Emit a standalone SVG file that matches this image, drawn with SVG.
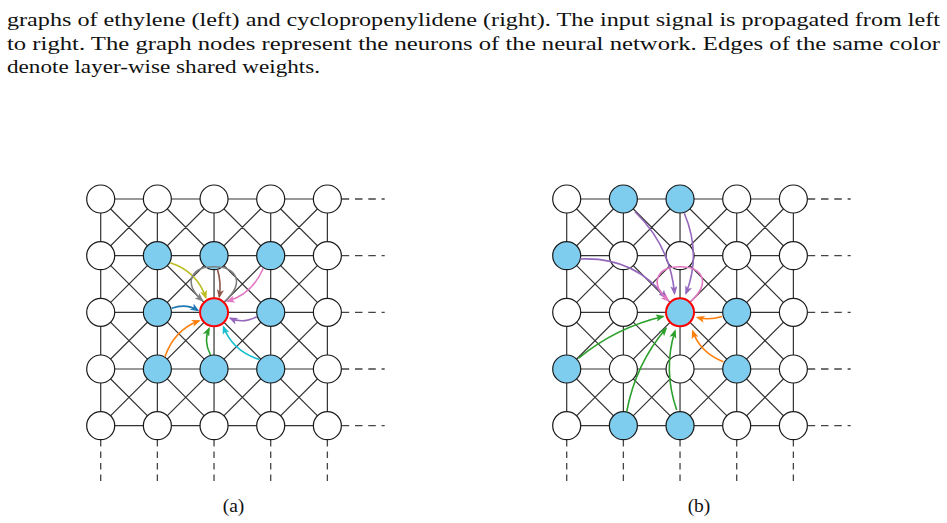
<svg xmlns="http://www.w3.org/2000/svg" width="947" height="523" viewBox="0 0 947 523">
  <style>
    .cap { font-family: "Liberation Serif", "DejaVu Serif", serif; font-size: 19.5px; fill: #111; }
    .grid { fill: none; stroke: #333; stroke-width: 1.2; }
    .dash-h { fill: none; stroke: #444; stroke-width: 1.3; stroke-dasharray: 7.5 5.8; }
    .dash-v { fill: none; stroke: #444; stroke-width: 1.3; stroke-dasharray: 6.5 5; }
    .n { stroke: #1a1a1a; stroke-width: 1.2; fill: #fff; }
    .on { fill: #7fcdee; }
    .focus { fill: #7fcdee; stroke: #ff0000; stroke-width: 2; }
    .arr { fill: none; stroke-width: 1.6; }
  </style>
  <defs>
    <marker id="h-olive" viewBox="0 0 10 8" refX="8" refY="4" markerWidth="9" markerHeight="7.2" markerUnits="userSpaceOnUse" orient="auto"><path d="M0,0 L10,4 L0,8 L2.5,4 z" fill="#bcbd22"/></marker>
    <marker id="h-grey" viewBox="0 0 10 8" refX="8" refY="4" markerWidth="9" markerHeight="7.2" markerUnits="userSpaceOnUse" orient="auto"><path d="M0,0 L10,4 L0,8 L2.5,4 z" fill="#7f7f7f"/></marker>
    <marker id="h-brown" viewBox="0 0 10 8" refX="8" refY="4" markerWidth="9" markerHeight="7.2" markerUnits="userSpaceOnUse" orient="auto"><path d="M0,0 L10,4 L0,8 L2.5,4 z" fill="#8c564b"/></marker>
    <marker id="h-pink" viewBox="0 0 10 8" refX="8" refY="4" markerWidth="9" markerHeight="7.2" markerUnits="userSpaceOnUse" orient="auto"><path d="M0,0 L10,4 L0,8 L2.5,4 z" fill="#e377c2"/></marker>
    <marker id="h-blue" viewBox="0 0 10 8" refX="8" refY="4" markerWidth="9" markerHeight="7.2" markerUnits="userSpaceOnUse" orient="auto"><path d="M0,0 L10,4 L0,8 L2.5,4 z" fill="#1f77b4"/></marker>
    <marker id="h-purple" viewBox="0 0 10 8" refX="8" refY="4" markerWidth="9" markerHeight="7.2" markerUnits="userSpaceOnUse" orient="auto"><path d="M0,0 L10,4 L0,8 L2.5,4 z" fill="#9467bd"/></marker>
    <marker id="h-orange" viewBox="0 0 10 8" refX="8" refY="4" markerWidth="9" markerHeight="7.2" markerUnits="userSpaceOnUse" orient="auto"><path d="M0,0 L10,4 L0,8 L2.5,4 z" fill="#ff7f0e"/></marker>
    <marker id="h-green" viewBox="0 0 10 8" refX="8" refY="4" markerWidth="9" markerHeight="7.2" markerUnits="userSpaceOnUse" orient="auto"><path d="M0,0 L10,4 L0,8 L2.5,4 z" fill="#2ca02c"/></marker>
    <marker id="h-cyan" viewBox="0 0 10 8" refX="8" refY="4" markerWidth="9" markerHeight="7.2" markerUnits="userSpaceOnUse" orient="auto"><path d="M0,0 L10,4 L0,8 L2.5,4 z" fill="#17becf"/></marker>

    <!-- 5x5 king-graph lattice: rows, columns and both diagonals of every cell -->
    <path id="lattice" class="grid" d="M0,0 H226.67 M0,56.67 H226.67 M0,113.33 H226.67 M0,170 H226.67 M0,226.67 H226.67
      M0,0 V226.67 M56.67,0 V226.67 M113.33,0 V226.67 M170,0 V226.67 M226.67,0 V226.67
      M0,0 L226.67,226.67 M56.67,0 L226.67,170 M113.33,0 L226.67,113.33 M170,0 L226.67,56.67
      M0,56.67 L170,226.67 M0,113.33 L113.33,226.67 M0,170 L56.67,226.67
      M56.67,0 L0,56.67 M113.33,0 L0,113.33 M170,0 L0,170 M226.67,0 L0,226.67
      M226.67,56.67 L56.67,226.67 M226.67,113.33 L113.33,226.67 M226.67,170 L170,226.67"/>
    <!-- continuation stubs to the right and below -->
    <g id="stubs">
      <path class="dash-h" d="M241,0 H284 M241,56.67 H284 M241,113.33 H284 M241,170 H284 M241,226.67 H284"/>
      <path class="dash-v" d="M0,241 V283 M56.67,241 V283 M113.33,241 V283 M170,241 V283 M226.67,241 V283"/>
    </g>
  </defs>

  <!-- caption -->
  <g id="caption">
    <text class="cap" x="7" y="26" textLength="933" lengthAdjust="spacingAndGlyphs">graphs of ethylene (left) and cyclopropenylidene (right). The input signal is propagated from left</text>
    <text class="cap" x="7" y="49.5" textLength="933" lengthAdjust="spacingAndGlyphs">to right. The graph nodes represent the neurons of the neural network. Edges of the same color</text>
    <text class="cap" x="7" y="73" textLength="313" lengthAdjust="spacingAndGlyphs">denote layer-wise shared weights.</text>
  </g>

  <!-- lattice edges -->
  <g id="edges">
    <g transform="translate(100.7,199)"><use href="#lattice"/><use href="#stubs"/></g>
    <g transform="translate(566.7,199)"><use href="#lattice"/><use href="#stubs"/></g>
  </g>

  <!-- panel (a) nodes -->
  <g id="a-nodes">
    <g id="a-0-0"><circle class="n" cx="100.7" cy="199" r="14"/></g>
    <g id="a-1-0"><circle class="n" cx="157.37" cy="199" r="14"/></g>
    <g id="a-2-0"><circle class="n" cx="214.03" cy="199" r="14"/></g>
    <g id="a-3-0"><circle class="n" cx="270.7" cy="199" r="14"/></g>
    <g id="a-4-0"><circle class="n" cx="327.37" cy="199" r="14"/></g>
    <g id="a-0-1"><circle class="n" cx="100.7" cy="255.67" r="14"/></g>
    <g id="a-1-1"><circle class="n on" cx="157.37" cy="255.67" r="14"/></g>
    <g id="a-2-1"><circle class="n on" cx="214.03" cy="255.67" r="14"/></g>
    <g id="a-3-1"><circle class="n on" cx="270.7" cy="255.67" r="14"/></g>
    <g id="a-4-1"><circle class="n" cx="327.37" cy="255.67" r="14"/></g>
    <g id="a-0-2"><circle class="n" cx="100.7" cy="312.33" r="14"/></g>
    <g id="a-1-2"><circle class="n on" cx="157.37" cy="312.33" r="14"/></g>
    <g id="a-2-2"><circle class="n focus" cx="214.03" cy="312.33" r="14"/></g>
    <g id="a-3-2"><circle class="n on" cx="270.7" cy="312.33" r="14"/></g>
    <g id="a-4-2"><circle class="n" cx="327.37" cy="312.33" r="14"/></g>
    <g id="a-0-3"><circle class="n" cx="100.7" cy="369" r="14"/></g>
    <g id="a-1-3"><circle class="n on" cx="157.37" cy="369" r="14"/></g>
    <g id="a-2-3"><circle class="n on" cx="214.03" cy="369" r="14"/></g>
    <g id="a-3-3"><circle class="n on" cx="270.7" cy="369" r="14"/></g>
    <g id="a-4-3"><circle class="n" cx="327.37" cy="369" r="14"/></g>
    <g id="a-0-4"><circle class="n" cx="100.7" cy="425.67" r="14"/></g>
    <g id="a-1-4"><circle class="n" cx="157.37" cy="425.67" r="14"/></g>
    <g id="a-2-4"><circle class="n" cx="214.03" cy="425.67" r="14"/></g>
    <g id="a-3-4"><circle class="n" cx="270.7" cy="425.67" r="14"/></g>
    <g id="a-4-4"><circle class="n" cx="327.37" cy="425.67" r="14"/></g>
  </g>

  <!-- panel (b) nodes -->
  <g id="b-nodes">
    <g id="b-0-0"><circle class="n" cx="566.7" cy="199" r="14"/></g>
    <g id="b-1-0"><circle class="n on" cx="623.37" cy="199" r="14"/></g>
    <g id="b-2-0"><circle class="n on" cx="680.03" cy="199" r="14"/></g>
    <g id="b-3-0"><circle class="n" cx="736.7" cy="199" r="14"/></g>
    <g id="b-4-0"><circle class="n" cx="793.37" cy="199" r="14"/></g>
    <g id="b-0-1"><circle class="n on" cx="566.7" cy="255.67" r="14"/></g>
    <g id="b-1-1"><circle class="n" cx="623.37" cy="255.67" r="14"/></g>
    <g id="b-2-1"><circle class="n" cx="680.03" cy="255.67" r="14"/></g>
    <g id="b-3-1"><circle class="n" cx="736.7" cy="255.67" r="14"/></g>
    <g id="b-4-1"><circle class="n" cx="793.37" cy="255.67" r="14"/></g>
    <g id="b-0-2"><circle class="n" cx="566.7" cy="312.33" r="14"/></g>
    <g id="b-1-2"><circle class="n" cx="623.37" cy="312.33" r="14"/></g>
    <g id="b-2-2"><circle class="n focus" cx="680.03" cy="312.33" r="14"/></g>
    <g id="b-3-2"><circle class="n on" cx="736.7" cy="312.33" r="14"/></g>
    <g id="b-4-2"><circle class="n" cx="793.37" cy="312.33" r="14"/></g>
    <g id="b-0-3"><circle class="n on" cx="566.7" cy="369" r="14"/></g>
    <g id="b-1-3"><circle class="n" cx="623.37" cy="369" r="14"/></g>
    <g id="b-2-3"><circle class="n" cx="680.03" cy="369" r="14"/></g>
    <g id="b-3-3"><circle class="n on" cx="736.7" cy="369" r="14"/></g>
    <g id="b-4-3"><circle class="n" cx="793.37" cy="369" r="14"/></g>
    <g id="b-0-4"><circle class="n" cx="566.7" cy="425.67" r="14"/></g>
    <g id="b-1-4"><circle class="n on" cx="623.37" cy="425.67" r="14"/></g>
    <g id="b-2-4"><circle class="n on" cx="680.03" cy="425.67" r="14"/></g>
    <g id="b-3-4"><circle class="n" cx="736.7" cy="425.67" r="14"/></g>
    <g id="b-4-4"><circle class="n" cx="793.37" cy="425.67" r="14"/></g>
  </g>

  <!-- weighted message edges into the highlighted neuron -->
  <g id="arrows">
    <!-- panel (a) -->
    <path class="arr" stroke="#bcbd22" marker-end="url(#h-olive)" d="M170.3,262.8 Q197.2,271.7 205.8,297.6"/>
    <path class="arr" stroke="#8c564b" marker-end="url(#h-brown)" d="M217.5,269.5 Q221.5,283 219.3,296.8"/>
    <path class="arr" stroke="#e377c2" marker-end="url(#h-pink)" d="M263.3,268.3 Q252.5,293.8 227.5,301.2"/>
    <path class="arr" stroke="#1f77b4" marker-end="url(#h-blue)" d="M171.7,308.3 Q186.1,303.1 197.8,310.4"/>
    <path class="arr" stroke="#9467bd" marker-end="url(#h-purple)" d="M256.7,316.7 Q242.9,323.9 230.3,318.3"/>
    <path class="arr" stroke="#ff7f0e" marker-end="url(#h-orange)" d="M165,356.7 Q174.2,330.1 199,320.8"/>
    <path class="arr" stroke="#2ca02c" marker-end="url(#h-green)" d="M210.5,355 Q203.2,341.1 209,328.7"/>
    <path class="arr" stroke="#17becf" marker-end="url(#h-cyan)" d="M259.5,359.5 Q232.8,351.2 223.5,327"/>
    <path class="arr" stroke="#7f7f7f" marker-end="url(#h-grey)" d="M224.6,301.7 C246,282 236,266.7 214,266.7 C192,266.7 182,282 202.2,300.5"/>

    <!-- panel (b) -->
    <path class="arr" stroke="#9467bd" marker-end="url(#h-purple)" d="M635,211.7 Q670.3,245.9 674.5,293.3"/>
    <path class="arr" stroke="#9467bd" marker-end="url(#h-purple)" d="M684.3,213.3 Q701.6,254 686,293.3"/>
    <path class="arr" stroke="#9467bd" marker-end="url(#h-purple)" d="M580,259 Q634,256.3 665.5,297.5"/>
    <path class="arr" stroke="#e377c2" marker-end="url(#h-pink)" d="M690.6,301.7 C712,282 702,266.7 680,266.7 C658,266.7 648,282 668.2,300.5"/>
    <path class="arr" stroke="#2ca02c" marker-end="url(#h-green)" d="M578.3,358.3 Q616.4,327.3 663,316.5"/>
    <path class="arr" stroke="#2ca02c" marker-end="url(#h-green)" d="M626.7,411.7 Q635.6,364 666,328.5"/>
    <path class="arr" stroke="#2ca02c" marker-end="url(#h-green)" d="M676.7,410 Q662.8,369.7 675,331"/>
    <path class="arr" stroke="#ff7f0e" marker-end="url(#h-orange)" d="M722,316.5 Q709,320.5 697.5,317.5"/>
    <path class="arr" stroke="#ff7f0e" marker-end="url(#h-orange)" d="M723.3,361.7 Q700.4,352.9 692.7,331.3"/>
  </g>

  <!-- sub-figure labels -->
  <text class="cap" x="233.5" y="511.5" text-anchor="middle">(a)</text>
  <text class="cap" x="699" y="511.5" text-anchor="middle">(b)</text>
</svg>
